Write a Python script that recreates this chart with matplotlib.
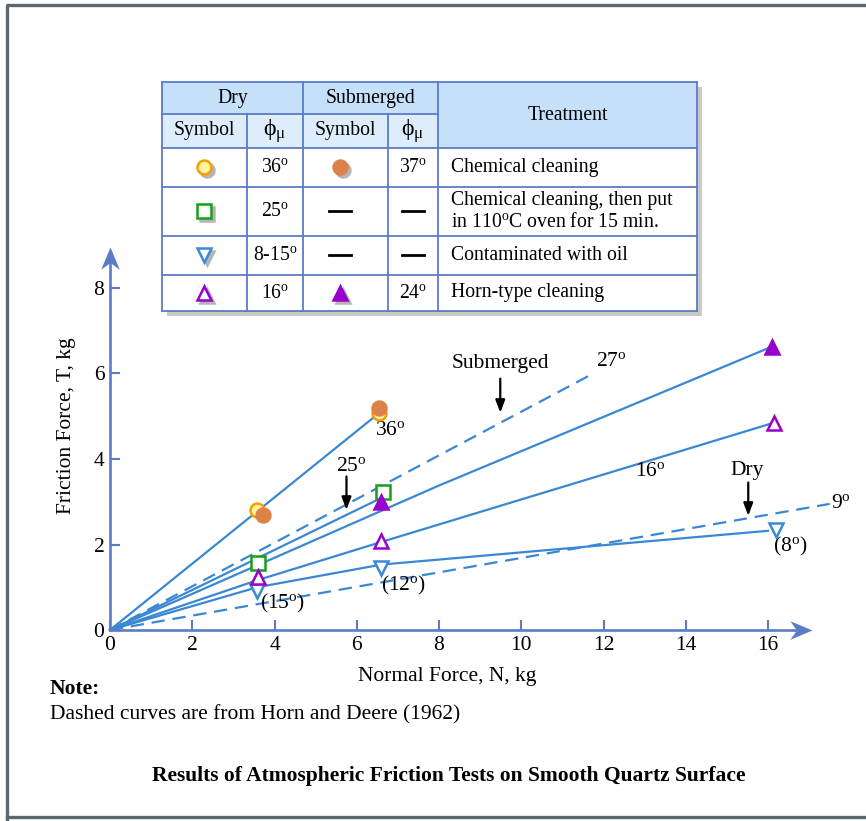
import matplotlib
matplotlib.use("Agg")
import matplotlib.pyplot as plt
from matplotlib.patches import Rectangle

plt.rcParams['font.family'] = ['Liberation Serif', 'DejaVu Serif']
plt.rcParams['mathtext.fontset'] = 'custom'
plt.rcParams['mathtext.rm'] = 'Liberation Serif'
plt.rcParams['mathtext.it'] = 'Liberation Serif:italic'
plt.rcParams['mathtext.bf'] = 'Liberation Serif:bold'

# ---- data ----
x_ticks = [0, 2, 4, 6, 8, 10, 12, 14, 16]
y_ticks = [0, 2, 4, 6, 8]

# measured points
dry_chem_x = [3.58, 6.55]
dry_chem_y = [2.81, 5.08]
sub_chem_x = [3.72, 6.55]
sub_chem_y = [2.69, 5.20]
dry_oven_x = [3.60, 6.64]
dry_oven_y = [1.57, 3.23]
dry_oil_x = [3.58, 6.60, 16.20]
dry_oil_y = [0.92, 1.46, 2.35]
dry_horn_x = [3.60, 6.60, 16.15]
dry_horn_y = [1.24, 2.08, 4.85]
sub_horn_x = [6.60, 16.10]
sub_horn_y = [3.00, 6.63]

# fitted curves (solid)
c36_x = [0, 6.55]
c36_y = [0, 5.08]
c_oven_x = [0, 6.62]
c_oven_y = [0, 3.10]
c_subhorn_x = [0, 8.0, 16.1]
c_subhorn_y = [0, 3.38, 6.63]
c_horn_x = [0, 3.6, 6.6, 16.15]
c_horn_y = [0, 1.17, 2.06, 4.85]
c_oil_x = [0, 3.58, 6.6, 16.0]
c_oil_y = [0, 1.00, 1.53, 2.32]

# Horn and Deere (1962) curves (dashed)
hd_sub_x = [0, 11.75]
hd_sub_y = [0, 6.0]
hd_dry_x = [0, 17.5]
hd_dry_y = [0, 2.95]

# table contents
dry_phi = ['36', '25', '8-15', '16']
sub_phi = ['37', None, None, '24']
treatments = ['Chemical cleaning',
              'Chemical cleaning, then put\nin 110$^{\\mathrm{o}}$C oven for 15 min.',
              'Contaminated with oil',
              'Horn-type cleaning']


def deg(v):
    return v + r'$^{\mathrm{o}}$'


W, H = 866, 821
fig = plt.figure(figsize=(W / 100, H / 100), dpi=100)

FS = 15.5     # main text size
TFS = 14.2    # table text size

AXC = '#5b7cc4'
LC = '#3a87d4'
ORANGE = '#f5a000'
ORANGE_FILL = '#dc8246'
GREEN = '#17a017'
BLUE_M = '#3b8ad8'
PURPLE = '#9a00cc'

# main axes: x=0 at px 110, y=0 at px 630
X0, Y0 = 110, 630
sx, sy = 41.125, 42.75
XMAX, YMAX = 17.6, 9.1
ax = fig.add_axes([X0 / W, (H - Y0) / H, XMAX * sx / W, YMAX * sy / H])
ax.set_xlim(0, XMAX)
ax.set_ylim(0, YMAX)
ax.patch.set_alpha(0)
for s in ['top', 'right']:
    ax.spines[s].set_visible(False)
for s in ['left', 'bottom']:
    ax.spines[s].set_color(AXC)
    ax.spines[s].set_linewidth(1.9)
ax.spines['bottom'].set_bounds(0, 16.9)
ax.spines['left'].set_bounds(0, 8.8)
ax.set_xticks(x_ticks)
ax.set_yticks(y_ticks)
ax.tick_params(direction='in', length=7.5, width=1.5, color=AXC,
               labelsize=FS, pad=4)

# axis arrow heads
arrow_r = [(0, 0), (-1, 0.42), (-0.7, 0), (-1, -0.42), (0, 0)]
arrow_u = [(0, 0), (0.42, -1), (0, -0.7), (-0.42, -1), (0, 0)]
ax.plot([17.07], [0], marker=arrow_r, ms=32, color=AXC, mew=0,
        clip_on=False, zorder=6)
ax.plot([0], [8.97], marker=arrow_u, ms=32, color=AXC, mew=0,
        clip_on=False, zorder=6)

# curves
kw = dict(color=LC, lw=1.6, clip_on=False, zorder=2)
ax.plot(c36_x, c36_y, **kw)
ax.plot(c_oven_x, c_oven_y, **kw)
ax.plot(c_subhorn_x, c_subhorn_y, **kw)
ax.plot(c_horn_x, c_horn_y, **kw)
ax.plot(c_oil_x, c_oil_y, **kw)
ax.plot(hd_sub_x, hd_sub_y, ls=(0, (6, 3.5)), **kw)
ax.plot(hd_dry_x, hd_dry_y, ls=(0, (6, 3.5)), **kw)

# measured points
mk = dict(ls='none', ms=10, mew=1.8, clip_on=False, zorder=4)
ax.plot(dry_chem_x, dry_chem_y, marker='o', mfc='#fff4a0', mec=ORANGE, **mk)
ax.plot(sub_chem_x, sub_chem_y, marker='o', mfc=ORANGE_FILL, mec=ORANGE_FILL, **mk)
ax.plot(dry_oven_x, dry_oven_y, marker='s', mfc='white', mec=GREEN, **mk)
ax.plot(dry_oil_x, dry_oil_y, marker='v', mfc='white', mec=BLUE_M, **mk)
ax.plot(dry_horn_x, dry_horn_y, marker='^', mfc='white', mec=PURPLE, **mk)
ax.plot(sub_horn_x, sub_horn_y, marker='^', mfc=PURPLE, mec=PURPLE, **mk)

# annotations
tk = dict(fontsize=FS, ha='center', va='center', clip_on=False)
ax.text(9.49, 6.23, 'Submerged', **tk)
ax.text(12.2, 6.27, deg('27'), **tk)
ax.text(6.82, 4.66, deg('36'), **tk)
ax.text(5.88, 3.82, deg('25'), **tk)
ax.text(13.13, 3.70, deg('16'), **tk)
ax.text(15.5, 3.73, 'Dry', **tk)
ax.text(17.52, 2.96, deg('9'), fontsize=FS, ha='left', va='center')
ax.text(16.54, 1.95, '(' + deg('8') + ')', **tk)
ax.text(7.13, 1.05, '(' + deg('12') + ')', **tk)
ax.text(4.2, 0.62, '(' + deg('15') + ')', **tk)

ap = dict(arrowstyle='-|>,head_length=0.75,head_width=0.28', color='black',
          lw=1.6, shrinkA=0, shrinkB=0)
ax.annotate('', xy=(9.49, 5.08), xytext=(9.49, 5.88), arrowprops=ap)
ax.annotate('', xy=(5.75, 2.81), xytext=(5.75, 3.59), arrowprops=ap)
ax.annotate('', xy=(15.52, 2.67), xytext=(15.52, 3.45), arrowprops=ap)

# axis titles and notes
fig.text(66 / W, 1 - 426 / H, 'Friction Force, T, kg', rotation=90,
         ha='center', va='center', fontsize=FS)
fig.text(447 / W, 1 - 676 / H, 'Normal Force, N, kg',
         ha='center', va='center', fontsize=FS)
fig.text(50 / W, 1 - 689 / H, 'Note:', weight='bold',
         ha='left', va='center', fontsize=FS)
fig.text(50 / W, 1 - 715 / H, 'Dashed curves are from Horn and Deere (1962)',
         ha='left', va='center', fontsize=FS)
fig.text(449 / W, 1 - 776 / H,
         'Results of Atmospheric Friction Tests on Smooth Quartz Surface',
         weight='bold', ha='center', va='center', fontsize=FS)

# ---- overlay in pixel coordinates: frame and symbol table ----
ov = fig.add_axes([0, 0, 1, 1])
ov.set_xlim(0, W)
ov.set_ylim(H, 0)
ov.axis('off')
ov.patch.set_alpha(0)

FRAME = '#5d6770'
ov.plot([7, 7, 880], [830, 5, 5], color=FRAME, lw=2.4, clip_on=False)
ov.plot([7, 880], [817, 817], color=FRAME, lw=2.4, clip_on=False)

cols = [162, 247, 303, 388, 438, 697]
rows = [82, 114, 148, 187, 236, 275, 311]
GRID = '#5a7cc6'
HEAD1 = '#c6e0fa'
HEAD2 = '#deedfc'

ov.add_patch(Rectangle((cols[0] + 5, rows[0] + 5), cols[-1] - cols[0],
                       rows[-1] - rows[0], color='#c9c9c9', lw=0, zorder=1))
ov.add_patch(Rectangle((cols[0], rows[0]), cols[4] - cols[0], rows[1] - rows[0],
                       color=HEAD1, lw=0, zorder=2))
ov.add_patch(Rectangle((cols[0], rows[1]), cols[4] - cols[0], rows[2] - rows[1],
                       color=HEAD2, lw=0, zorder=2))
ov.add_patch(Rectangle((cols[4], rows[0]), cols[5] - cols[4], rows[2] - rows[0],
                       color=HEAD1, lw=0, zorder=2))
ov.add_patch(Rectangle((cols[0], rows[2]), cols[5] - cols[0], rows[-1] - rows[2],
                       color='white', lw=0, zorder=2))

gl = dict(color=GRID, lw=1.3, zorder=3, solid_capstyle='projecting')
ov.plot([cols[0], cols[-1]], [rows[0], rows[0]], **gl)
ov.plot([cols[0], cols[4]], [rows[1], rows[1]], **gl)
for r in rows[2:]:
    ov.plot([cols[0], cols[-1]], [r, r], **gl)
for c in [cols[0], cols[2], cols[4], cols[5]]:
    ov.plot([c, c], [rows[0], rows[-1]], **gl)
for c in [cols[1], cols[3]]:
    ov.plot([c, c], [rows[1], rows[-1]], **gl)

tt = dict(fontsize=TFS, ha='center', va='center', zorder=5)
ov.text((cols[0] + cols[2]) / 2, (rows[0] + rows[1]) / 2 + 1, 'Dry', **tt)
ov.text((cols[2] + cols[4]) / 2, (rows[0] + rows[1]) / 2 + 1, 'Submerged', **tt)
ov.text((cols[4] + cols[5]) / 2, (rows[0] + rows[2]) / 2, 'Treatment', **tt)
phi = 'ϕ$_{\\mathrm{μ}}$'
pk = dict(fontsize=TFS + 3, ha='center', va='center', zorder=5)
ov.text((cols[0] + cols[1]) / 2, (rows[1] + rows[2]) / 2, 'Symbol', **tt)
ov.text((cols[1] + cols[2]) / 2, (rows[1] + rows[2]) / 2, phi, **pk)
ov.text((cols[2] + cols[3]) / 2, (rows[1] + rows[2]) / 2, 'Symbol', **tt)
ov.text((cols[3] + cols[4]) / 2, (rows[1] + rows[2]) / 2, phi, **pk)

dry_sym = [dict(marker='o', mfc='#fff4a0', mec=ORANGE),
           dict(marker='s', mfc='white', mec=GREEN),
           dict(marker='v', mfc='white', mec=BLUE_M),
           dict(marker='^', mfc='white', mec=PURPLE)]
sub_sym = [dict(marker='o', mfc=ORANGE_FILL, mec=ORANGE_FILL),
           None, None,
           dict(marker='^', mfc=PURPLE, mec=PURPLE)]

for i in range(4):
    yc = (rows[i + 2] + rows[i + 3]) / 2
    for xc, sym in [(204, dry_sym[i]), (340, sub_sym[i])]:
        if sym is None:
            ov.plot([xc - 11, xc + 11], [yc, yc], color='black', lw=2, zorder=5)
            continue
        ov.plot([xc + 3], [yc + 3], marker=sym['marker'], ms=10, mew=1.8,
                color='#b5b5b5', zorder=4)
        ov.plot([xc], [yc], ms=10, mew=1.8, zorder=5, **sym)
    ov.text((cols[1] + cols[2]) / 2, yc, deg(dry_phi[i]), **tt)
    if sub_phi[i] is None:
        xm = (cols[3] + cols[4]) / 2
        ov.plot([xm - 11, xm + 11], [yc, yc], color='black', lw=2, zorder=5)
    else:
        ov.text((cols[3] + cols[4]) / 2, yc, deg(sub_phi[i]), **tt)
    ov.text(451, yc, treatments[i], fontsize=TFS, ha='left', va='center',
            linespacing=1.25, zorder=5)

fig.savefig('out.png', dpi=100)
